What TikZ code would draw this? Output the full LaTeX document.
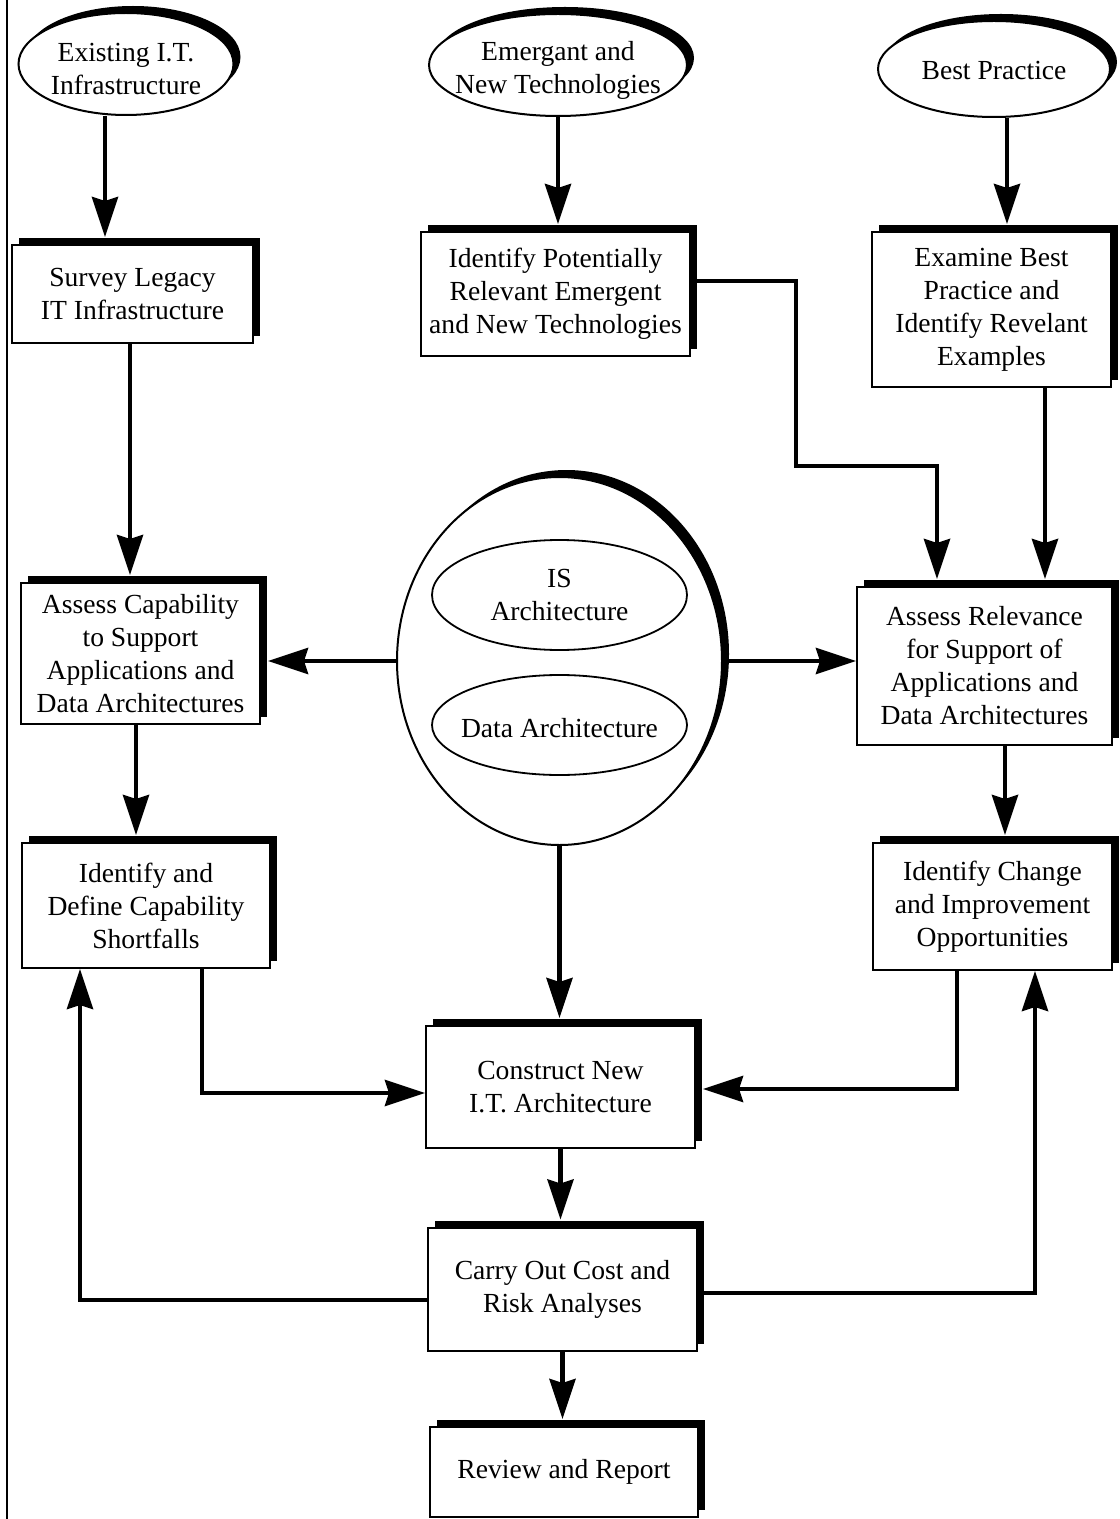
\documentclass[tikz,border=0pt]{standalone}
\usepackage{fontspec}
\setmainfont{Liberation Serif}
\usetikzlibrary{shapes.geometric,shadows,arrows.meta}

\begin{document}
\begin{tikzpicture}[
    x=0.5pt, y=-0.5pt,
    every node/.style={font=\fontsize{13.8}{16.5}\selectfont},
    pbox/.style={draw, line width=1pt, fill=white, align=center, inner sep=0pt,
        drop shadow={shadow xshift=3.5pt, shadow yshift=3.5pt, fill=black, opacity=1}},
    src/.style={ellipse, draw, line width=1pt, fill=white, inner sep=0pt,
        drop shadow={shadow xshift=3.5pt, shadow yshift=3.5pt, fill=black, opacity=1}},
    sub/.style={ellipse, draw, line width=0.9pt, fill=white, inner sep=0pt},
    flow/.style={line width=2.3pt, -{Stealth[length=20pt,width=13pt,inset=2pt]}},
    toshad/.style={shorten >=3.5pt},
]
\useasboundingbox (0,0) rectangle (1119,1519);

% left margin rule
\draw[line width=1.2pt] (7,0) -- (7,1519);

% ================================================================
% SOURCES: three ellipses along the top
% ================================================================
\node[src, minimum width=107.5pt, minimum height=51pt,
      label={[align=center, yshift=-2.5pt]center:Existing I.T.\\Infrastructure}] (exist) at (126,64) {};
\node[src, minimum width=129pt, minimum height=51pt,
      label={[align=center, yshift=-2.5pt]center:Emergant and\\New Technologies}] (emerg) at (558,65) {};
\node[src, minimum width=116pt, minimum height=48pt,
      label={[yshift=-1pt]center:Best Practice}] (best) at (994,69) {};

% ================================================================
% FIRST ROW OF BOXES
% ================================================================
\node[pbox, minimum width=120.5pt, minimum height=49pt] (survey) at (132.5,294)
    {Survey Legacy\\IT Infrastructure};
\node[pbox, minimum width=134.5pt, minimum height=62pt] (ident) at (555.5,294)
    {Identify Potentially\\Relevant Emergent\\and New Technologies};
\node[pbox, minimum width=119.5pt, minimum height=77.5pt] (exam) at (991.5,309.5)
    {Examine Best\\Practice and\\Identify Revelant\\Examples};

% ================================================================
% MIDDLE: architectures ellipse and the two assessments
% ================================================================
\node[src, minimum width=162.5pt, minimum height=184pt] (arch) at (559.5,661) {};
\node[sub, minimum width=127.5pt, minimum height=55pt,
      label={[align=center]center:IS\\Architecture}] (isarch) at (559.5,595) {};
\node[sub, minimum width=127.5pt, minimum height=50pt,
      label={[yshift=-1.5pt]center:Data Architecture}] (dataarch) at (559.5,725) {};

\node[pbox, minimum width=119.5pt, minimum height=70.5pt] (capab) at (140.5,653.5)
    {Assess Capability\\to Support\\Applications and\\Data Architectures};
\node[pbox, minimum width=127.5pt, minimum height=79pt] (relev) at (984.5,666)
    {Assess Relevance\\for Support of\\Applications and\\Data Architectures};

\node[pbox, minimum width=124pt, minimum height=62.5pt] (short) at (146,905.5)
    {Identify and\\Define Capability\\Shortfalls};
\node[pbox, minimum width=119.5pt, minimum height=63.5pt] (change) at (992.5,906.5)
    {Identify Change\\and Improvement\\Opportunities};

% ================================================================
% BOTTOM COLUMN
% ================================================================
\node[pbox, minimum width=134.5pt, minimum height=61pt] (constr) at (560.5,1087)
    {Construct New\\I.T. Architecture};
\node[pbox, minimum width=134.5pt, minimum height=61.5pt] (cost) at (562.5,1289)
    {Carry Out Cost and\\Risk Analyses};
\node[pbox, minimum width=134pt, minimum height=45pt] (review) at (564,1472)
    {Review and Report};

% bend points and columns of the connectors
\coordinate (k1) at (105,0);
\coordinate (k2) at (1007,0);
\coordinate (k3) at (130,0);
\coordinate (k4) at (1045,0);
\coordinate (k5) at (136,0);
\coordinate (k6) at (1005,0);
\coordinate (r1) at (796,281);
\coordinate (r2) at (937,466);
\coordinate (r3) at (202,1093);
\coordinate (r4) at (957,1089);
\coordinate (r5) at (80,1300);
\coordinate (r6) at (1035,1293);

% ================================================================
% CONNECTORS
% ================================================================
\draw[flow, toshad] (exist.south -| k1) -- (survey.north -| k1);
\draw[flow, toshad] (emerg.south) -- (ident.north -| emerg.south);
\draw[flow, toshad] (best.south -| k2) -- (exam.north -| k2);

\draw[flow, toshad] (survey.south -| k3) -- (capab.north -| k3);
\draw[flow, toshad] (ident.east |- r1) -- (r1) |- (r2) -- (relev.north -| r2);
\draw[flow, toshad] (exam.south -| k4) -- (relev.north -| k4);

\draw[flow, toshad] (arch.west) -- (capab.east |- arch.west);
\draw[flow] (arch.east) -- (relev.west |- arch.east);
\draw[flow, toshad] (arch.south) -- (constr.north -| arch.south);

\draw[flow, toshad] (capab.south -| k5) -- (short.north -| k5);
\draw[flow, toshad] (relev.south -| k6) -- (change.north -| k6);

\draw[flow] (short.south -| r3) |- (constr.west |- r3);
\draw[flow, toshad] (change.south -| r4) |- (constr.east |- r4);

\draw[flow, toshad] (constr.south) -- (cost.north -| constr.south);
\draw[flow] (cost.west |- r5) -| (short.south -| r5);
\draw[flow] (cost.east |- r6) -| (change.south -| r6);
\draw[flow, toshad] (cost.south) -- (review.north -| cost.south);

\end{tikzpicture}
\end{document}
